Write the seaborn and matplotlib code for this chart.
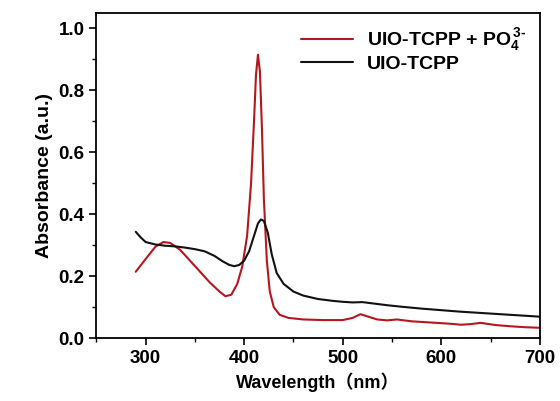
import matplotlib
matplotlib.use("Agg")
import matplotlib.pyplot as plt
from matplotlib.ticker import MultipleLocator
import numpy as np
import pandas as pd
import seaborn as sns

# UV-vis absorbance
wl_red = [290, 300, 310, 318, 325, 335, 345, 355, 365, 375, 381, 387, 393, 398,
          403, 407, 410, 412, 414, 416, 418, 420, 423, 426, 430, 436, 445, 460,
          480, 500, 510, 518, 525, 535, 545, 555, 570, 590, 610, 620, 630, 640,
          655, 670, 685, 700]
abs_red = [0.214, 0.255, 0.295, 0.310, 0.307, 0.285, 0.250, 0.215, 0.180, 0.150,
           0.135, 0.140, 0.175, 0.230, 0.330, 0.500, 0.700, 0.850, 0.915, 0.860,
           0.680, 0.450, 0.250, 0.150, 0.100, 0.075, 0.065, 0.060, 0.058, 0.058,
           0.065, 0.077, 0.070, 0.060, 0.057, 0.060, 0.054, 0.050, 0.046, 0.043,
           0.045, 0.049, 0.042, 0.038, 0.035, 0.033]

wl_blk = [290, 295, 300, 310, 320, 330, 340, 350, 360, 370, 378, 385, 390, 395,
          400, 405, 410, 414, 417, 420, 424, 428, 433, 440, 450, 460, 475, 490,
          500, 510, 520, 530, 545, 560, 580, 600, 620, 640, 660, 680, 700]
abs_blk = [0.343, 0.325, 0.310, 0.302, 0.298, 0.296, 0.292, 0.287, 0.280, 0.265,
           0.248, 0.236, 0.232, 0.236, 0.250, 0.280, 0.330, 0.370, 0.383, 0.378,
           0.340, 0.270, 0.210, 0.175, 0.150, 0.137, 0.126, 0.120, 0.117, 0.115,
           0.116, 0.112, 0.106, 0.101, 0.095, 0.090, 0.085, 0.081, 0.077, 0.073,
           0.069]

df = pd.concat([
    pd.DataFrame({"wl": wl_red, "abs": abs_red, "sample": r"UIO-TCPP + PO$_4^{\,3\text{-}}$"}),
    pd.DataFrame({"wl": wl_blk, "abs": abs_blk, "sample": "UIO-TCPP"}),
])

sns.set_style("ticks")
plt.rcParams['font.family'] = ['Liberation Sans', 'Noto Sans CJK SC']
plt.rcParams['font.weight'] = 'bold'
plt.rcParams['text.color'] = 'black'
plt.rcParams['axes.labelcolor'] = 'black'
plt.rcParams['xtick.color'] = 'black'
plt.rcParams['ytick.color'] = 'black'
plt.rcParams['mathtext.fontset'] = 'custom'
plt.rcParams['mathtext.rm'] = 'Liberation Sans:bold'
plt.rcParams['mathtext.it'] = 'Liberation Sans:bold'
plt.rcParams['mathtext.bf'] = 'Liberation Sans:bold'

fig, ax = plt.subplots(figsize=(5.6, 4.01), dpi=100)
sns.lineplot(data=df, x="wl", y="abs", hue="sample", sort=False,
             palette=["#b5171f", "#111111"], linewidth=1.5, ax=ax)

ax.set_xlim(250, 700)
ax.set_ylim(0, 1.05)
ax.xaxis.set_major_locator(MultipleLocator(100))
ax.xaxis.set_minor_locator(MultipleLocator(50))
ax.yaxis.set_major_locator(MultipleLocator(0.2))
ax.yaxis.set_minor_locator(MultipleLocator(0.1))
ax.yaxis.set_major_formatter(matplotlib.ticker.FormatStrFormatter('%.1f'))
ax.tick_params(which='major', direction='out', length=5, width=1.2, labelsize=13.5)
ax.tick_params(which='minor', direction='out', length=3, width=1.0)
for s in ax.spines.values():
    s.set_linewidth(1.3)
    s.set_color('black')

ax.set_xlabel("Wavelength（nm）", fontsize=13, fontweight='bold')
ax.set_ylabel("Absorbance (a.u.)", fontsize=14, fontweight='bold')
for lab in ax.get_xticklabels() + ax.get_yticklabels():
    lab.set_fontweight('bold')

ax.legend(title=None, frameon=False, loc='upper right', fontsize=14,
          handlelength=2.7, borderaxespad=0.3, labelspacing=0.1, handletextpad=0.7)

plt.subplots_adjust(left=0.172, right=0.964, top=0.968, bottom=0.157)
plt.savefig("out.png", dpi=100)
